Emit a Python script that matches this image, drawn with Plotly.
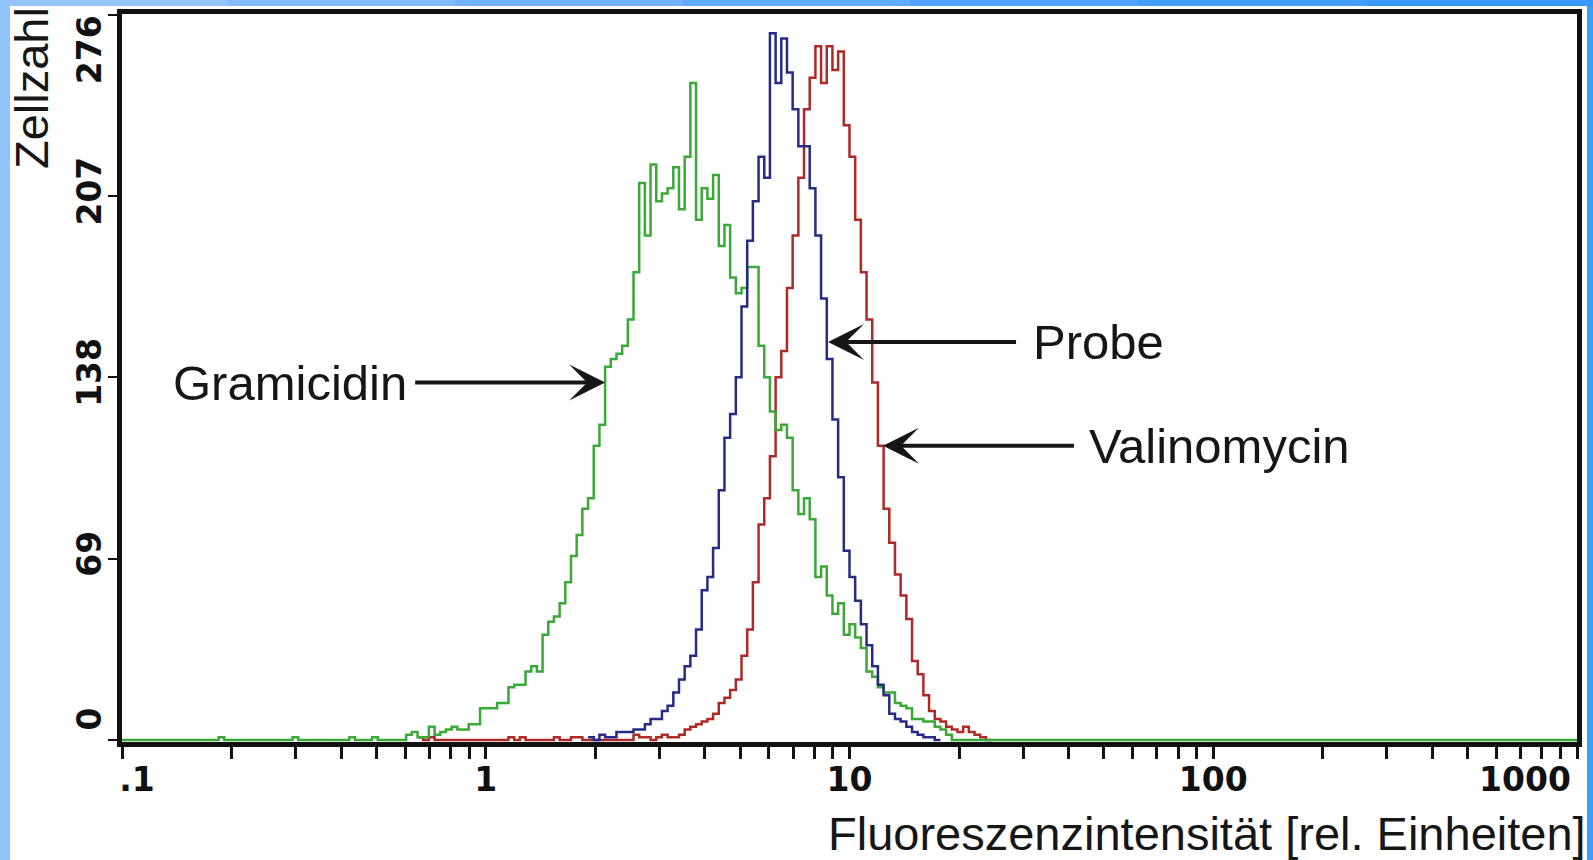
import numpy as np
import plotly.graph_objects as go

# Flow-cytometry histograms on a 4-decade log scale, 64 channels per decade,
# channel 0 starting at 0.1.
CHANNELS_PER_DECADE = 64
LOG_START = -1.0
TOTAL_CHANNELS = 256

gramicidin_start = 16
gramicidin_counts = [
    0, 1, 0, 0, 0, 0, 0, 0, 0, 0, 0, 0, 0, 0, 1, 0, 0, 0, 0, 0,
    0, 0, 0, 0, 1, 0, 0, 0, 1, 0, 0, 0, 0, 0, 2, 3, 1, 1, 5, 2,
    3, 4, 5, 4, 4, 6, 6, 12, 12, 12, 14, 14, 20, 21, 21, 26, 28, 26, 40, 45,
    47, 52, 60, 70, 78, 88, 92, 112, 120, 142, 145, 147, 150, 160, 178, 212, 192, 219, 205, 208,
    210, 218, 202, 222, 250, 198, 210, 206, 215, 188, 196, 176, 170, 172, 180, 180, 150, 138, 125, 118,
    120, 115, 95, 86, 92, 84, 62, 66, 55, 48, 52, 40, 44, 39, 35, 26, 24, 20, 18, 18,
    14, 13, 12, 8, 8, 7, 7, 5, 4, 2, 0,
]

probe_start = 82
probe_counts = [
    1, 0, 2, 1, 1, 3, 3, 3, 4, 4, 6, 8, 8, 11, 13, 18, 23, 28, 32, 42,
    57, 62, 73, 95, 115, 124, 138, 165, 190, 205, 222, 214, 269, 250, 267, 254, 240, 226, 226, 210,
    192, 168, 145, 122, 100, 72, 62, 53, 44, 36, 28, 21, 17, 10, 8, 7, 5, 3, 2, 1,
    1, 0,
]

valinomycin_start = 52
valinomycin_counts = [
    1, 0, 1, 0, 0, 0, 0, 0, 0, 0, 0, 0, 0, 0, 0, 0, 1, 0, 1, 0,
    0, 0, 0, 0, 1, 0, 0, 1, 1, 0, 0, 0, 0, 0, 0, 0, 0, 0, 2, 1,
    1, 0, 1, 2, 1, 1, 2, 4, 5, 6, 7, 8, 10, 14, 16, 19, 23, 32, 42, 60,
    82, 92, 108, 138, 148, 172, 192, 214, 240, 252, 264, 250, 264, 255, 262, 234, 222, 198, 178, 160,
    136, 112, 88, 75, 63, 55, 46, 30, 25, 17, 11, 8, 7, 5, 4, 3, 5, 3, 2, 1,
    0,
]

# decade ticks with unlabelled 2..9 subdivisions
x_tick_values = [m * 10.0 ** e for e in (-1, 0, 1, 2) for m in range(1, 10)] + [1000.0]
x_tick_text = [""] * 9 + ["1"] + [""] * 8 + ["10"] + [""] * 8 + ["100"] + [""] * 9
x_first_label = ".1"
x_last_label = "1000"

y_tick_values = [0, 69, 138, 207, 276]
y_tick_text = ["", "69", "138", "207", ""]
y_first_label = "0"
y_last_label = "276"

GREEN = "#3aa937"
BLUE = "#272b86"
RED = "#ad2a27"
INK = "#111111"
CLEAR = "rgba(0,0,0,0)"


def channel_edges(first, last):
    k = np.arange(first, last + 1)
    return 10.0 ** (LOG_START + k / CHANNELS_PER_DECADE)


def histogram_steps(start, counts, full_range=False):
    counts = list(counts)
    if full_range:
        counts = [0] * start + counts
        counts = counts + [0] * (TOTAL_CHANNELS - len(counts))
        start = 0
    x = channel_edges(start, start + len(counts))
    y = counts + [counts[-1]]
    return x, y


fig = go.Figure()
for name, start, counts, color, full in [
    ("Valinomycin", valinomycin_start, valinomycin_counts, RED, False),
    ("Gramicidin", gramicidin_start, gramicidin_counts, GREEN, True),
    ("Probe", probe_start, probe_counts, BLUE, False),
]:
    x, y = histogram_steps(start, counts, full)
    fig.add_trace(go.Scatter(
        x=x, y=y, mode="lines", name=name,
        line=dict(color=color, width=2.5, shape="hv"),
        hoverinfo="skip", showlegend=False,
    ))

# empty traces so the label-only overlay axes get drawn
for xa, ya in [("x2", "y"), ("x3", "y"), ("x", "y2"), ("x", "y3")]:
    fig.add_trace(go.Scatter(x=[], y=[], xaxis=xa, yaxis=ya, showlegend=False, hoverinfo="skip"))

tick_font = dict(family="DejaVu Sans", size=33, color=INK, weight="bold")
X_RANGE = [-1.0, 3.0]
Y_RANGE = [-0.8, 276.3]

x_common = dict(type="log", range=X_RANGE, automargin=False, tickmode="array",
                ticks="outside", ticklen=12, tickwidth=3, tickfont=tick_font, tickangle=0,
                ticklabeloverflow="allow", ticklabelstandoff=-8,
                showline=True, linewidth=5, showgrid=False, zeroline=False)
y_common = dict(range=Y_RANGE, automargin=False, tickmode="array",
                ticks="outside", ticklen=9, tickwidth=2, tickfont=tick_font, tickangle=-90,
                ticklabeloverflow="allow", ticklabelstandoff=-6,
                showline=True, linewidth=5, showgrid=False, zeroline=False)

fig.update_layout(
    xaxis=dict(**x_common, tickvals=x_tick_values, ticktext=x_tick_text,
               tickcolor=INK, linecolor=INK, mirror=True),
    # end labels pushed inward along the axis so they stay inside the frame
    xaxis2=dict(**x_common, tickvals=[x_tick_values[0]], ticktext=[x_first_label],
                tickcolor=CLEAR, linecolor=CLEAR, ticklabelshift=15,
                overlaying="x", anchor="y", side="bottom"),
    xaxis3=dict(**x_common, tickvals=[x_tick_values[-1]], ticktext=[x_last_label],
                tickcolor=CLEAR, linecolor=CLEAR, ticklabelshift=-52,
                overlaying="x", anchor="y", side="bottom"),
    yaxis=dict(**y_common, tickvals=y_tick_values, ticktext=y_tick_text,
               tickcolor=INK, linecolor=INK, mirror=True),
    yaxis2=dict(**y_common, tickvals=[y_tick_values[0]], ticktext=[y_first_label],
                tickcolor=CLEAR, linecolor=CLEAR, ticklabelshift=-16,
                overlaying="y", anchor="x", side="left"),
    yaxis3=dict(**y_common, tickvals=[y_tick_values[-1]], ticktext=[y_last_label],
                tickcolor=CLEAR, linecolor=CLEAR, ticklabelshift=40,
                overlaying="y", anchor="x", side="left"),
)

# plot area in pixels: x 122..1577, y 14..742
L, R, T, B = 122, 1577, 14, 742


def px(xp):
    return (xp - L) / (R - L)


def py(yp):
    return (B - yp) / (B - T)


label_font = dict(family="Liberation Sans", size=49, color="#161616")
arrow_style = dict(showarrow=True, arrowhead=3, arrowsize=1.5, arrowwidth=4,
                   arrowcolor="#161616", axref="pixel", ayref="pixel")

annotations = [
    dict(x=np.log10(2.13), y=136, xref="x", yref="y", ax=-190, ay=0, borderpad=7,
         text="Gramicidin", xanchor="right", yanchor="middle", font=label_font, **arrow_style),
    dict(x=np.log10(8.73), y=151.5, xref="x", yref="y", ax=188, ay=0, borderpad=16,
         text="Probe", xanchor="left", yanchor="middle", font=label_font, **arrow_style),
    dict(x=np.log10(12.36), y=112, xref="x", yref="y", ax=191, ay=0, borderpad=14,
         text="Valinomycin", xanchor="left", yanchor="middle", font=label_font, **arrow_style),
    dict(x=px(1588), y=py(833), xref="paper", yref="paper", showarrow=False,
         text="Fluoreszenzintensität [rel. Einheiten]", xanchor="right", yanchor="middle",
         font=dict(family="Liberation Sans", size=47, color="#161616")),
    dict(x=px(31), y=py(5), xref="paper", yref="paper", showarrow=False,
         text="Zellzahl", textangle=-90, xanchor="center", yanchor="top",
         font=dict(family="Liberation Sans", size=47, color="#161616")),
]

# light-blue slide border on the left, top and right
shapes = [
    dict(type="rect", xref="paper", yref="paper", x0=px(0), x1=px(10), y0=py(860), y1=py(0),
         fillcolor="#92c4fc", line_width=0, layer="above"),
    dict(type="rect", xref="paper", yref="paper", x0=px(1587), x1=px(1593), y0=py(860), y1=py(0),
         fillcolor="#3d9bfb", line_width=0, layer="above"),
]
top_band_colors = ["#92c4fc", "#83bcfc", "#73b3fc", "#63abfc", "#53a3fc", "#449cfb", "#3a98fb"]
seg = 1593 / len(top_band_colors)
for i, c in enumerate(top_band_colors):
    shapes.append(dict(type="rect", xref="paper", yref="paper",
                       x0=px(i * seg), x1=px((i + 1) * seg + 1), y0=py(6), y1=py(0),
                       fillcolor=c, line_width=0, layer="above"))

fig.update_layout(
    width=1593, height=860,
    margin=dict(l=L, r=1593 - R, t=T, b=860 - B, pad=0, autoexpand=False),
    paper_bgcolor="white", plot_bgcolor="white",
    annotations=annotations, shapes=shapes,
    showlegend=False,
)

fig.write_html("out.html", config={"displayModeBar": False})
